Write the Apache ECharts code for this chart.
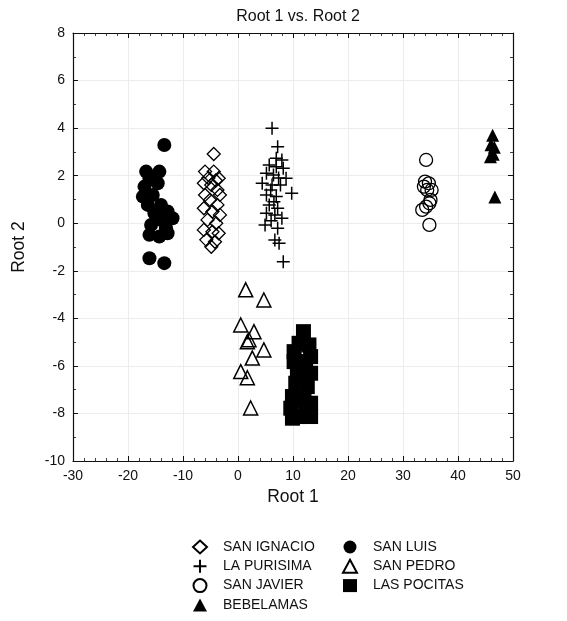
<!DOCTYPE html>
<html>
<head>
<meta charset="utf-8">
<script src="https://cdn.jsdelivr.net/npm/echarts@6/dist/echarts.min.js"></script>
<style>
html,body{margin:0;padding:0;background:#fff;}
#chart{width:567px;height:621px;}
</style>
</head>
<body>
<div id="chart"></div>
<script>
// ---- data (Root 1, Root 2) ----
var sanIgnacio = [[-4.41,2.91],[-5.99,2.17],[-4.41,2.17],[-3.51,1.89],[-6.21,1.68],[-4.86,1.61],[-3.74,1.40],[-5.99,1.19],[-3.29,1.19],[-5.09,0.98],[-3.74,0.77],[-6.21,0.63],[-4.64,0.49],[-3.29,0.35],[-5.54,0.14],[-3.96,0.00],[-6.21,-0.28],[-4.64,-0.36],[-3.51,-0.42],[-5.76,-0.70],[-4.19,-0.78],[-4.86,-0.99],[-5.39,1.9],[-4.04,1.8]];
var laPurisima = [[6.19,3.99],[7.21,3.22],[6.96,2.73],[7.98,2.66],[5.68,2.45],[6.96,2.38],[8.23,2.31],[5.17,2.10],[6.45,2.03],[8.74,1.89],[4.40,1.68],[6.19,1.61],[7.72,1.61],[9.76,1.26],[5.17,1.19],[6.96,1.12],[5.68,0.77],[7.21,0.63],[5.17,0.42],[6.70,0.35],[7.98,0.21],[4.92,-0.07],[7.21,-0.21],[6.70,-0.71],[7.47,-0.84],[8.23,-1.62],[5.94,1.4],[6.53,0.9],[7.38,1.9],[6.02,0.1]];
var sanJavier = [[34.2,2.66],[34.0,1.75],[34.7,1.68],[33.8,1.54],[35.2,1.40],[34.4,1.40],[35.0,0.98],[34.8,0.84],[33.5,0.56],[34.2,0.70],[34.8,-0.07]];
var bebelamas = [[46.3,3.7],[46.0,3.3],[46.6,3.2],[45.9,2.8],[46.4,2.9],[46.7,1.1]];
var sanLuis = [[-13.4,3.29],[-16.7,2.17],[-14.3,2.17],[-16.1,1.89],[-17.0,1.54],[-14.6,1.68],[-17.3,1.12],[-15.5,1.19],[-16.4,0.77],[-14.0,0.77],[-12.8,0.49],[-15.2,0.42],[-11.9,0.21],[-14.0,0.14],[-15.8,-0.07],[-13.1,-0.21],[-16.1,-0.49],[-14.3,-0.56],[-12.8,-0.42],[-16.1,-1.47],[-13.4,-1.68]];
var sanPedro = [[1.4,-2.8],[4.7,-3.23],[0.5,-4.28],[2.9,-4.56],[1.7,-4.98],[4.7,-5.33],[2.6,-5.67],[0.5,-6.24],[1.7,-6.5],[2.3,-7.77],[2.0,-4.9]];
var lasPocitas = [[11.9,-4.56],[11.1,-5.05],[12.9,-5.12],[10.2,-5.40],[13.2,-5.61],[10.2,-5.82],[12.3,-5.82],[10.8,-6.31],[13.2,-6.31],[10.5,-6.73],[12.6,-6.87],[9.9,-7.29],[12.0,-7.43],[13.2,-7.57],[9.6,-7.78],[12.3,-7.85],[11.1,-8.13],[13.2,-8.13],[9.9,-8.20]];
var xTicks = {min:-30, max:50, interval:10};
var yTicks = {min:-10, max:8, interval:2};
var titleText = 'Root 1 vs. Root 2';
var xName = 'Root 1', yName = 'Root 2';

var FONT = '"Liberation Sans", Arial, Helvetica, sans-serif';
var INK = '#000';
var TXT = '#111';
var chart = echarts.init(document.getElementById('chart'), null, {renderer:'canvas'});

function axisBase(extra){
  return Object.assign({
    type:'value',
    axisLine:{show:true, onZero:false, lineStyle:{color:'#111', width:1.2}},
    axisTick:{show:true, inside:true, length:5, lineStyle:{color:'#111', width:1}},
    minorTick:{show:true, splitNumber:5, length:3, lineStyle:{color:'#111', width:0.8}},
    splitLine:{show:false},
    axisLabel:{show:false}
  }, extra);
}

var hollow = {color:'rgba(255,255,255,0)', borderColor:INK, borderWidth:1.3, opacity:1};
var solid = {color:INK, borderColor:INK, borderWidth:0, opacity:1};

var series = [
  {name:'SAN IGNACIO', data:sanIgnacio, symbol:'diamond', symbolSize:13, itemStyle:hollow},
  {name:'LA PURISIMA', data:laPurisima, symbol:'path://M0,6H12M6,0V12', symbolSize:13, itemStyle:{color:'rgba(0,0,0,0)', borderColor:INK, borderWidth:1.5, opacity:1}},
  {name:'SAN JAVIER', data:sanJavier, symbol:'circle', symbolSize:13, itemStyle:hollow},
  {name:'BEBELAMAS', data:bebelamas, symbol:'triangle', symbolSize:13, itemStyle:solid},
  {name:'SAN LUIS', data:sanLuis, symbol:'circle', symbolSize:14, itemStyle:solid},
  {name:'SAN PEDRO', data:sanPedro, symbol:'triangle', symbolSize:14, itemStyle:{color:'rgba(255,255,255,0)', borderColor:INK, borderWidth:1.5, opacity:1}},
  {name:'LAS POCITAS', data:lasPocitas, symbol:'rect', symbolSize:15, itemStyle:solid}
].map(function(s){ return Object.assign({type:'scatter', xAxisIndex:0, yAxisIndex:0, emphasis:{disabled:true}}, s); });

var legendText = {fontFamily:FONT, fontSize:14, lineHeight:16, color:TXT, padding:[0,0,0,11]};

chart.setOption({
  animation:false,
  backgroundColor:'#fff',
  title:{text:titleText, left:293, top:4, textAlign:'center',
    textStyle:{fontFamily:FONT, fontSize:16, fontWeight:'normal', color:TXT}},
  grid:{left:73, right:54, top:33, bottom:160, containLabel:false},
  xAxis:[
    axisBase({min:xTicks.min, max:xTicks.max, interval:xTicks.interval, position:'bottom',
      name:xName, nameLocation:'middle', nameGap:22,
      nameTextStyle:{fontFamily:FONT, fontSize:17.5, color:TXT, verticalAlign:'top'},
      axisLabel:{show:true, fontFamily:FONT, fontSize:14, color:TXT, margin:8},
      splitLine:{show:true, lineStyle:{color:'#ececec', width:1}}}),
    axisBase({min:xTicks.min, max:xTicks.max, interval:xTicks.interval, position:'top', gridIndex:0})
  ],
  yAxis:[
    axisBase({min:yTicks.min, max:yTicks.max, interval:yTicks.interval, position:'left',
      name:yName, nameLocation:'middle', nameGap:45, nameRotate:90,
      nameTextStyle:{fontFamily:FONT, fontSize:17.5, color:TXT},
      minorTick:{show:true, splitNumber:2, length:3, lineStyle:{color:'#111', width:0.8}},
      axisLabel:{show:true, fontFamily:FONT, fontSize:14, color:TXT, margin:8},
      splitLine:{show:true, lineStyle:{color:'#ececec', width:1}}}),
    axisBase({min:yTicks.min, max:yTicks.max, interval:yTicks.interval, position:'right',
      minorTick:{show:true, splitNumber:2, length:3, lineStyle:{color:'#111', width:0.8}}})
  ],
  legend:[
    {orient:'vertical', left:192, top:539, padding:0, height:84, itemGap:3.3, itemWidth:14, itemHeight:13,
      data:['SAN IGNACIO','LA PURISIMA','SAN JAVIER','BEBELAMAS'], textStyle:legendText, selectedMode:false},
    {orient:'vertical', left:342, top:539, padding:0, height:84, itemGap:3.3, itemWidth:14, itemHeight:13,
      data:['SAN LUIS','SAN PEDRO','LAS POCITAS'], textStyle:legendText, selectedMode:false}
  ],
  series:series
});
</script>
</body>
</html>
